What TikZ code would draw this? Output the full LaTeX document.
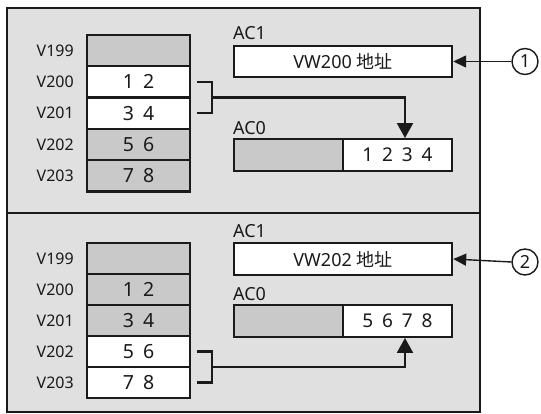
\documentclass[tikz,border=0pt]{standalone}
\usepackage{fontspec}
\setmainfont{Noto Sans}
\newfontfamily\cjk{Noto Sans CJK SC}
\newfontfamily\digfont[WordSpace=1.8]{Noto Sans}
\usetikzlibrary{arrows.meta}
\definecolor{panelbg}{HTML}{E0E0E0}
\definecolor{cellgray}{HTML}{C9C9C9}
\definecolor{ink}{HTML}{1A1A1A}
\tikzset{
  panel/.style={draw=ink, line width=1.8pt, fill=panelbg},
  cell/.style={draw=ink, line width=2.4pt, minimum width=103pt, minimum height=31.2pt, inner sep=0pt, font=\digfont\fontsize{19.5}{22}\selectfont, text=ink},
  graycell/.style={cell, fill=cellgray},
  whitecell/.style={cell, fill=white},
  vlabel/.style={anchor=east, inner sep=0pt, font=\fontsize{16}{19}\selectfont, text=ink},
  aclabel/.style={anchor=west, inner sep=0pt, font=\fontsize{18}{21}\selectfont, text=ink},
  accbox/.style={draw=ink, line width=2.4pt, inner sep=0pt, minimum height=31.5pt, text=ink},
  datalink/.style={draw=ink, line width=2.2pt},
  dataarrow/.style={datalink, -{Triangle[length=15pt,width=16pt]}},
  ptrarrow/.style={draw=ink, line width=1.4pt, -{Triangle[length=13pt,width=12pt]}},
  markcircle/.style={circle, draw=ink, line width=1.4pt, minimum size=26pt, inner sep=0pt, font=\fontsize{18}{21}\selectfont, text=ink},
}
\begin{document}
\begin{tikzpicture}[x=1pt,y=-1pt]
\useasboundingbox (0,0) rectangle (541,414);
% panels
\path[panel] (7,8) rectangle (480,213);
\path[panel] (7,213) rectangle (480,412);
% ---------- top panel ----------
\node[graycell]  (t199) at (138.5,50.6) {};
\node[whitecell] (t200) at (138.5,81.9) {1 2};
\node[whitecell] (t201) at (138.5,113.2) {3 4};
\node[graycell]  (t202) at (138.5,144.5) {5 6};
\node[graycell]  (t203) at (138.5,175.8) {7 8};
\node[vlabel] at (74,50.6) {V199};
\node[vlabel] at (74,81.9) {V200};
\node[vlabel] at (74,113.2) {V201};
\node[vlabel] at (74,144.5) {V202};
\node[vlabel] at (74,175.8) {V203};
\node[aclabel] (tac1l) at (233,33.5) {AC1};
\node[accbox, fill=white, minimum width=218pt, font=\fontsize{18}{21}\selectfont] (tac1) at (343,61.5) {VW200 {\cjk 地址}};
\node[aclabel] (tac0l) at (233,128.5) {AC0};
\node[accbox, fill=cellgray, minimum width=109pt] (tac0a) at (288.5,155) {};
\node[accbox, fill=white, minimum width=109pt, font=\digfont\fontsize{19}{22}\selectfont] (tac0b) at (397.5,155) {1 2 3 4};
\coordinate (tb1) at (197,81.9);
\coordinate (tb2) at (197,113.2);
\coordinate (tbm) at (212,97.5);
\coordinate (tturn) at (405,97.5);
\draw[datalink] (tb1) -| (tbm) |- (tb2);
\draw[dataarrow] (tbm) -- (tturn) -- (tturn |- tac0b.north);
\node[markcircle] (c1) at (525,61.5) {1};
\draw[ptrarrow] (c1.west) -- (tac1.east);
% ---------- bottom panel ----------
\node[graycell] (b199) at (138.5,258.5) {};
\node[graycell] (b200) at (138.5,289.5) {1 2};
\node[graycell] (b201) at (138.5,320.5) {3 4};
\node[whitecell] (b202) at (138.5,351.5) {5 6};
\node[whitecell] (b203) at (138.5,382.5) {7 8};
\node[vlabel] at (74,258.5) {V199};
\node[vlabel] at (74,289.5) {V200};
\node[vlabel] at (74,320.5) {V201};
\node[vlabel] at (74,351.5) {V202};
\node[vlabel] at (74,382.5) {V203};
\node[aclabel] (bac1l) at (233,231) {AC1};
\node[accbox, fill=white, minimum width=218pt, font=\fontsize{18}{21}\selectfont] (bac1) at (343,259) {VW202 {\cjk 地址}};
\node[aclabel] (bac0l) at (233,294) {AC0};
\node[accbox, fill=cellgray, minimum width=109pt] (bac0a) at (288.5,321) {};
\node[accbox, fill=white, minimum width=109pt, font=\digfont\fontsize{19}{22}\selectfont] (bac0b) at (397.5,321) {5 6 7 8};
\coordinate (bb1) at (197,351.5);
\coordinate (bb2) at (197,382.5);
\coordinate (bbm) at (212,367);
\coordinate (bturn) at (405,367);
\draw[datalink] (bb1) -| (bbm) |- (bb2);
\draw[dataarrow] (bbm) -- (bturn) -- (bturn |- bac0b.south);
\node[markcircle] (c2) at (525,262) {2};
\draw[ptrarrow] (c2.west) -- (bac1.east);
\end{tikzpicture}
\end{document}
